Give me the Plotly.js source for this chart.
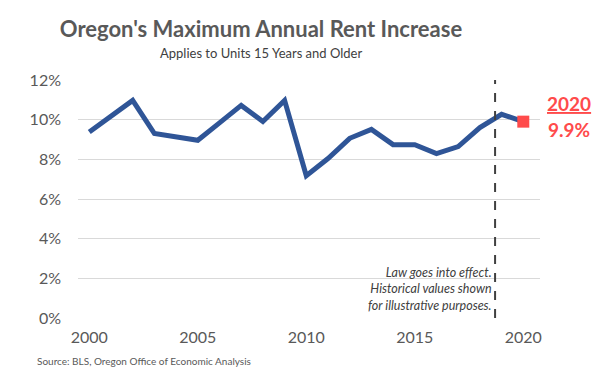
<!DOCTYPE html>
<html>
<head>
<meta charset="utf-8">
<script src="https://cdn.plot.ly/plotly-3.0.1.min.js"></script>
<style>html,body{margin:0;padding:0;background:#fff;}#chart{width:607px;height:378px;}</style>
</head>
<body>
<div id="chart"></div>
<script>
var years = [2000,2001,2002,2003,2004,2005,2006,2007,2008,2009,2010,2011,2012,2013,2014,2015,2016,2017,2018,2019,2020];
var rentIncrease = [9.38,10.17,10.97,9.30,9.14,8.96,9.84,10.72,9.91,10.97,7.17,8.04,9.06,9.51,8.74,8.74,8.29,8.64,9.60,10.27,9.9];
var lawYear = 2018.7;
var yTicks = [0,2,4,6,8,10,12];
var xTicks = [2000,2005,2010,2015,2020];

var lastYear = years[years.length-1];
var lastVal = rentIncrease[rentIncrease.length-1];
var red = '#FF4B4B';
var gray = '#595959';
var font = 'Lato, "Open Sans", sans-serif';

var traces = [
  {x: years, y: rentIncrease, type: 'scatter', mode: 'lines',
   line: {color: '#2F5597', width: 5}, hoverinfo: 'skip'},
  {x: [lastYear], y: [lastVal], type: 'scatter', mode: 'markers',
   marker: {symbol: 'square', size: 12, color: red}, hoverinfo: 'skip'}
];

var layout = {
  width: 607, height: 378,
  margin: {l: 78, r: 67, t: 80, b: 60},
  paper_bgcolor: '#fff', plot_bgcolor: '#fff',
  showlegend: false,
  font: {family: font, color: gray},
  title: {text: "<b>Oregon's Maximum Annual Rent Increase</b>", xref: 'container', yref: 'container',
          x: 261/607, xanchor: 'center', y: 1-29/378, yanchor: 'middle',
          font: {size: 22, color: gray, family: font}},
  xaxis: {range: [1999.48, 2020.77], tickvals: xTicks, ticktext: xTicks.map(String),
          showgrid: false, zeroline: false, showline: false, ticks: '',
          tickfont: {size: 16, color: gray}, ticklabelstandoff: 8},
  yaxis: {range: [0, 12], tickvals: yTicks, ticktext: yTicks.map(function(v){return v+'%';}),
          showgrid: true, gridcolor: '#d9d9d9', gridwidth: 1, zeroline: false, showline: false,
          ticks: '', tickfont: {size: 16, color: gray}, ticklabelstandoff: 16},
  shapes: [
    {type: 'line', xref: 'x', yref: 'y', x0: lawYear, x1: lawYear, y0: 0, y1: 12,
     line: {color: '#404040', width: 2, dash: 'dash'}}
  ],
  annotations: [
    {text: 'Applies to Units 15 Years and Older', xref: 'paper', yref: 'paper',
     x: (261-78)/462, y: (318.5-53)/238.5, xanchor: 'center', yanchor: 'middle', showarrow: false,
     font: {size: 13, color: '#404040'}},
    {text: '<i>Law goes into effect.<br>Historical values shown<br>for illustrative purposes.</i>',
     xref: 'x', yref: 'paper', x: lawYear, xshift: -1, y: (318.5-289)/238.5, xanchor: 'right', yanchor: 'middle',
     align: 'right', showarrow: false, font: {size: 12.5, color: '#404040'}},
    {text: '<b><u>' + lastYear + '</u></b>', xref: 'paper', yref: 'paper',
     x: (569-78)/462, y: (318.5-104)/238.5, xanchor: 'center', yanchor: 'middle', showarrow: false,
     font: {size: 19, color: red}},
    {text: '<b>' + lastVal.toFixed(1) + '%</b>', xref: 'paper', yref: 'paper',
     x: (569-78)/462, y: (318.5-130)/238.5, xanchor: 'center', yanchor: 'middle', showarrow: false,
     font: {size: 19, color: red}},
    {text: 'Source: BLS, Oregon Office of Economic Analysis', xref: 'paper', yref: 'paper',
     x: (35-78)/462, y: (318.5-362)/238.5, xanchor: 'left', yanchor: 'middle', showarrow: false,
     font: {size: 10, color: gray}}
  ]
};

Plotly.newPlot('chart', traces, layout, {staticPlot: true, displayModeBar: false});
</script>
</body>
</html>
